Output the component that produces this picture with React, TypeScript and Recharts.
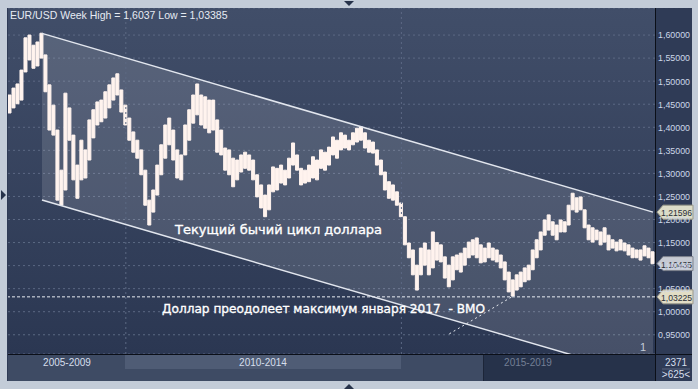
import React from 'react';
import { ComposedChart, Bar, Line, Area, XAxis, YAxis, ReferenceLine, CartesianGrid } from 'recharts';

// Weekly EUR/USD high/low, sampled left to right
const highs = [
  1.470, 1.485, 1.494, 1.524, 1.594, 1.600, 1.578, 1.585, 1.604, 1.557,
  1.492, 1.448, 1.394, 1.307, 1.474, 1.442, 1.383, 1.318, 1.372, 1.351,
  1.416, 1.438, 1.455, 1.459, 1.477, 1.492, 1.507, 1.516, 1.481, 1.448,
  1.420, 1.390, 1.372, 1.351, 1.307, 1.242, 1.264, 1.318, 1.362, 1.405,
  1.420, 1.394, 1.351, 1.340, 1.405, 1.438, 1.470, 1.494, 1.470, 1.466,
  1.459, 1.459, 1.416, 1.394, 1.355, 1.351, 1.333, 1.329, 1.340, 1.346,
  1.340, 1.329, 1.297, 1.275, 1.253, 1.275, 1.314, 1.311, 1.318, 1.307,
  1.333, 1.366, 1.340, 1.311, 1.307, 1.318, 1.336, 1.329, 1.351, 1.346,
  1.357, 1.379, 1.372, 1.388, 1.383, 1.372, 1.388, 1.398, 1.401, 1.388,
  1.372, 1.368, 1.351, 1.329, 1.303, 1.282, 1.275, 1.260, 1.236, 1.206,
  1.149, 1.134, 1.101, 1.138, 1.149, 1.134, 1.173, 1.150, 1.145, 1.119,
  1.101, 1.119, 1.123, 1.127, 1.138, 1.151, 1.156, 1.160, 1.145, 1.138,
  1.149, 1.138, 1.134, 1.123, 1.108, 1.086, 1.069, 1.080, 1.086, 1.095,
  1.101, 1.134, 1.156, 1.173, 1.199, 1.210, 1.195, 1.188, 1.199, 1.195,
  1.231, 1.257, 1.247, 1.249, 1.221, 1.188, 1.182, 1.177, 1.173, 1.182,
  1.166, 1.156, 1.151, 1.156, 1.149, 1.145, 1.138, 1.134, 1.134, 1.143,
  1.138, 1.130,
];
const lows = [
  1.431, 1.442, 1.451, 1.459, 1.520, 1.546, 1.528, 1.533, 1.550, 1.477,
  1.394, 1.383, 1.242, 1.231, 1.264, 1.372, 1.286, 1.246, 1.286, 1.290,
  1.329, 1.377, 1.405, 1.412, 1.420, 1.442, 1.459, 1.470, 1.433, 1.405,
  1.372, 1.346, 1.333, 1.297, 1.231, 1.188, 1.216, 1.253, 1.297, 1.333,
  1.362, 1.329, 1.290, 1.286, 1.340, 1.372, 1.409, 1.427, 1.405, 1.398,
  1.388, 1.394, 1.346, 1.340, 1.307, 1.297, 1.271, 1.286, 1.303, 1.311,
  1.307, 1.286, 1.249, 1.225, 1.206, 1.221, 1.260, 1.264, 1.279, 1.275,
  1.290, 1.318, 1.307, 1.275, 1.279, 1.282, 1.290, 1.286, 1.311, 1.307,
  1.318, 1.340, 1.333, 1.351, 1.355, 1.351, 1.362, 1.368, 1.372, 1.355,
  1.346, 1.344, 1.318, 1.297, 1.264, 1.246, 1.242, 1.231, 1.206, 1.145,
  1.117, 1.080, 1.047, 1.080, 1.101, 1.080, 1.095, 1.112, 1.108, 1.073,
  1.054, 1.069, 1.091, 1.086, 1.101, 1.117, 1.123, 1.117, 1.106, 1.108,
  1.117, 1.112, 1.108, 1.095, 1.069, 1.043, 1.034, 1.047, 1.054, 1.065,
  1.069, 1.091, 1.117, 1.134, 1.166, 1.177, 1.166, 1.156, 1.173, 1.173,
  1.188, 1.221, 1.216, 1.221, 1.182, 1.156, 1.151, 1.156, 1.145, 1.151,
  1.134, 1.138, 1.132, 1.134, 1.132, 1.123, 1.117, 1.117, 1.112, 1.121,
  1.117, 1.104,
];

// Channel (index of start/end week, upper and lower values)
const channelIdx = [8, 161];
const channelUpper = [1.6037, 1.21596];
const channelLower = [1.2423, 0.855];

// Target arrow from annotation to January 2017 low
const arrowIdx = [110, 126];
const arrowVal = [0.952, 1.034];

const yTicks = [0.95, 1.0, 1.05, 1.1, 1.15, 1.2, 1.25, 1.3, 1.35, 1.4, 1.45, 1.5, 1.55, 1.6];
const yearGridIdx = [29, 98];
const supportLevel = 1.03225;
const lastClose = 1.10435;
const channelEndLabel = 1.21596;

const titleText = 'EUR/USD Week High = 1,6037 Low = 1,03385';
const noteCycle = 'Текущий бычий цикл доллара';
const noteTarget = 'Доллар преодолеет максимум января 2017  - BMO';
const periods = ['2005-2009', '2010-2014', '2015-2019'];

const data = highs.map((h, i) => {
  const k = channelIdx.indexOf(i);
  return {
    i,
    range: [lows[i], h],
    ch: k >= 0 ? [channelLower[k], channelUpper[k]] : null,
    up: k >= 0 ? channelUpper[k] : null,
    lo: k >= 0 ? channelLower[k] : null,
  };
});

const fmt = (v: number) => v.toFixed(5).replace('.', ',');
const font = 'Liberation Sans, Arial, sans-serif';

const Marker = (props: any) => {
  const { viewBox, value, fill, stroke } = props;
  if (!viewBox) return null;
  const x = viewBox.x + viewBox.width + 2;
  const y = viewBox.y;
  return (
    <g>
      <path
        d={`M${x},${y} L${x + 6},${y - 7} H${x + 36} V${y + 7} H${x + 6} Z`}
        fill={fill}
        stroke={stroke}
        strokeWidth={1}
      />
      <text x={x + 4} y={y + 4} fontSize={9.5} fontFamily={font} fill="#2a2e36" textLength={31} lengthAdjust="spacingAndGlyphs">
        {fmt(value)}
      </text>
    </g>
  );
};

export default function App() {
  return (
    <div style={{ position: 'absolute', left: 0, top: 0, width: 698, height: 389, background: '#c3ccd8', overflow: 'hidden' }}>
      {/* panel */}
      <div style={{ position: 'absolute', left: 7, top: 8, width: 685, height: 373, background: '#2f3b56' }} />
      {/* plot gradient */}
      <div style={{ position: 'absolute', left: 8, top: 8, width: 647, height: 346, background: 'linear-gradient(#414e69, #2b3752)' }} />
      {/* bottom bar */}
      <div style={{ position: 'absolute', left: 8, top: 355, width: 647, height: 26, background: '#3e4b64' }} />
      <div style={{ position: 'absolute', left: 125, top: 355, width: 276, height: 14, background: '#4f5c75' }} />
      <div style={{ position: 'absolute', left: 483, top: 355, width: 172, height: 26, background: '#26324a', borderLeft: '1px solid #1c2538' }} />
      <div style={{ position: 'absolute', left: 8, top: 354, width: 684, height: 1, background: '#0b0f18' }} />
      <div style={{ position: 'absolute', left: 655, top: 8, width: 1, height: 373, background: '#0b0f18' }} />

      <div style={{ position: 'absolute', left: 8, top: 8 }}>
        <ComposedChart width={690} height={346} data={data} margin={{ top: 0, right: 0, bottom: 0, left: 0 }} barCategoryGap={0} barGap={0}>
          <CartesianGrid vertical={false} stroke="#5c6984" strokeDasharray="2 3" />
          <XAxis dataKey="i" hide />
          <YAxis
            orientation="right"
            width={43}
            domain={[0.9083, 1.6587]}
            allowDataOverflow
            ticks={yTicks}
            tickFormatter={fmt}
            tickSize={0}
            tickMargin={3}
            axisLine={false}
            tick={{ fontSize: 9.5, fontFamily: font, fill: '#cdd7e8', textLength: 32, lengthAdjust: 'spacingAndGlyphs' } as any}
          />
          {yearGridIdx.map((g) => (
            <ReferenceLine key={g} x={g} stroke="#5c6984" strokeDasharray="2 3" />
          ))}
          <Area dataKey="ch" connectNulls stroke="none" fill="#ffffff" fillOpacity={0.13} isAnimationActive={false} />
          <Line dataKey="up" connectNulls stroke="#e2e6ee" strokeWidth={1.5} dot={false} isAnimationActive={false} />
          <Line dataKey="lo" connectNulls stroke="#e2e6ee" strokeWidth={1.5} dot={false} isAnimationActive={false} />
          <Bar dataKey="range" barSize={3} fill="#fff3ee" stroke="#fff3ee" strokeWidth={1} isAnimationActive={false} />
          <ReferenceLine y={supportLevel} stroke="#e8ecf2" strokeDasharray="3 2" label={<Marker value={supportLevel} fill="#e2ddc6" stroke="#9a978a" />} />
          <ReferenceLine y={lastClose} stroke="none" label={<Marker value={lastClose} fill="#c6cad3" stroke="#7d828d" />} />
          <ReferenceLine y={channelEndLabel} stroke="none" label={<Marker value={channelEndLabel} fill="#dcdcc8" stroke="#9a9a8a" />} />
          <ReferenceLine
            segment={[{ x: arrowIdx[0], y: arrowVal[0] }, { x: arrowIdx[1], y: arrowVal[1] }]}
            stroke="#e8ecf2"
            strokeDasharray="2 3"
          />
        </ComposedChart>
      </div>

      <svg width={698} height={389} style={{ position: 'absolute', left: 0, top: 0, pointerEvents: 'none' }}>
        <text x={10} y={19} fontSize={10.5} fontFamily={font} fill="#e6ebf3">{titleText}</text>
        <text x={175} y={234} fontSize={13} fontFamily="DejaVu Sans, sans-serif" fill="#ffffff" stroke="#ffffff" strokeWidth={0.35}>{noteCycle}</text>
        <text x={162} y={313} fontSize={13} fontFamily="DejaVu Sans, sans-serif" fill="#ffffff" stroke="#ffffff" strokeWidth={0.35} textLength={323} lengthAdjust="spacingAndGlyphs" style={{ whiteSpace: 'pre' }}>{noteTarget}</text>
        <text x={640} y={351} fontSize={11} fontFamily={font} fill="#c4ccd8">1</text>
        <text x={67} y={366} fontSize={10} fontFamily={font} fill="#d6deec" textAnchor="middle">{periods[0]}</text>
        <text x={263} y={366} fontSize={10} fontFamily={font} fill="#d6deec" textAnchor="middle">{periods[1]}</text>
        <text x={528} y={366} fontSize={10} fontFamily={font} fill="#737f95" textAnchor="middle">{periods[2]}</text>
        <text x={676} y={366} fontSize={10} fontFamily={font} fill="#d6deec" textAnchor="middle">2371</text>
        <line x1={662} x2={690} y1={369} y2={369} stroke="#5a6680" />
        <text x={676} y={378} fontSize={10} fontFamily={font} fill="#d6deec" textAnchor="middle">{'>625<'}</text>
        <path d="M344,1 L354,1 L349,6 Z" fill="#26324a" />
        <path d="M344,389 L354,389 L349,384 Z" fill="#26324a" />
        <path d="M1,190 L1,200 L6,195 Z" fill="#26324a" />
      </svg>
    </div>
  );
}
